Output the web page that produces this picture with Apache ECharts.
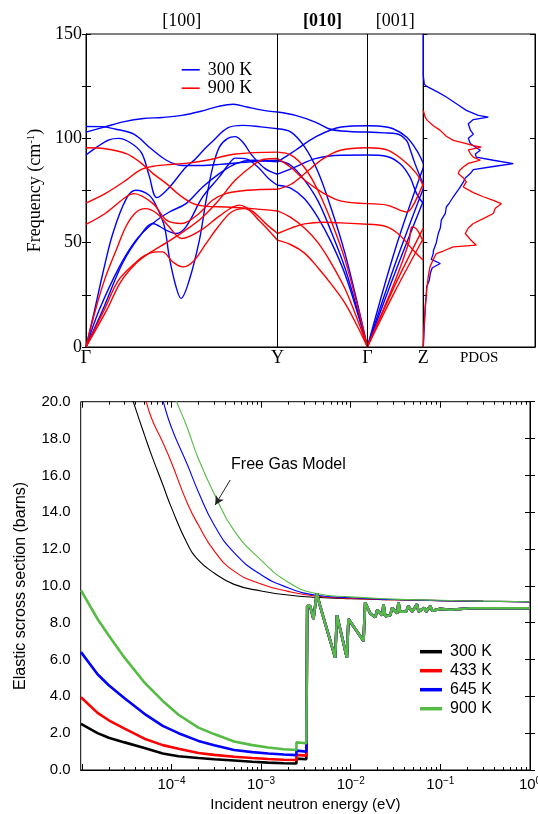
<!DOCTYPE html>
<html><head><meta charset="utf-8">
<script src="https://cdn.jsdelivr.net/npm/echarts@6/dist/echarts.min.js"></script>
<style>html,body{margin:0;padding:0;background:#fff}#c{width:538px;height:814px}</style>
</head><body><div id="c"></div><script>
// ================= TOP PANEL: phonon dispersion =================
const kTicks = [0, 1, 1.469, 1.761];
const kLabels = ['Γ', 'Y', 'Γ', 'Z'];
const dirPos = [0.5, 1.2345, 1.615];
const dirLabels = ['[100]', '[010]', '[001]'];
const freqMax = 150;

// each band: [segment Γ-Y, segment Y-Γ, segment Γ-Z], points [fraction along segment, frequency cm^-1]
const blue1 = [
  [[0,103],[0.1,105.5],[0.2,108],[0.3,109.5],[0.4,110],[0.5,111],[0.6,113],[0.7,115.5],[0.77,116.3],[0.84,115],[0.92,113.5],[1,112.6]],
  [[0,112.6],[0.2,111],[0.42,107.8],[0.57,104.6],[0.71,103.5],[1,103]],
  [[0,103],[0.3,102.6],[0.52,102.2],[0.7,99],[0.76,95],[0.85,88],[1,78]]
];
const blue2 = [
  [[0,105.7],[0.08,105.6],[0.15,104.5],[0.25,102],[0.34,95],[0.42,89.5],[0.5,87],[0.6,87],[0.7,87.5],[0.8,88.3],[0.9,89],[1,89.5]],
  [[0,89.5],[0.15,87],[0.3,80],[0.45,70],[0.6,55],[0.75,38],[0.9,16],[1,0]],
  [[0,0],[0.5,40],[1,76]]
];
const blue3 = [
  [[0,92],[0.06,96],[0.12,99.3],[0.17,100],[0.23,98],[0.29,93],[0.33,82],[0.37,71.6],[0.43,76],[0.52,86],[0.57,90],[0.62,95],[0.66,98.5],[0.74,105],[0.82,106.2],[0.91,105.5],[1,104.6]],
  [[0,104.6],[0.15,103],[0.3,96],[0.45,84],[0.6,66],[0.75,45],[0.9,19],[1,0]],
  [[0,0],[0.5,47],[1,86]]
];
const blue4 = [
  [[0,0],[0.045,17.7],[0.087,35],[0.14,54.4],[0.21,71],[0.26,75.1],[0.33,72.7],[0.37,67],[0.41,57.6],[0.435,43],[0.47,28.9],[0.496,23.3],[0.539,32],[0.592,51.2],[0.627,70.3],[0.662,86.3],[0.697,95.9],[0.74,100],[0.778,100.8],[0.82,98],[0.865,92],[0.935,85.5],[1,82.8]],
  [[0,82.8],[0.2,86.3],[0.42,90.3],[0.71,91.9],[1,92]],
  [[0,92],[0.35,91.3],[0.58,87.9],[0.76,81.5],[0.88,73.5],[1,68.7]]
];
const blue5 = [
  [[0,0],[0.069,17.7],[0.174,38.4],[0.261,51.2],[0.348,59.2],[0.435,64.7],[0.522,68.7],[0.609,76.7],[0.696,83.1],[0.783,87.9],[0.87,89.5],[1,88.7]],
  [[0,88.7],[0.2,94.3],[0.42,100.6],[0.71,105.4],[1,106]],
  [[0,106],[0.23,105.8],[0.46,104.6],[0.7,100.6],[0.88,94.3],[1,87.9]]
];
const blue6 = [
  [[0,0],[0.087,17.7],[0.19,40],[0.278,52.8],[0.348,59.2],[0.418,56],[0.47,54.4],[0.522,57.6],[0.609,71.9],[0.696,81.5],[0.74,87],[0.78,90.5],[0.84,90],[0.9,86],[0.95,81],[1,77.5]],
  [[0,77.5],[0.15,76],[0.3,71],[0.45,62],[0.6,50],[0.75,35],[0.9,15],[1,0]],
  [[0,0],[0.5,36],[1,70]]
];
const red1 = [
  [[0,95.5],[0.1,95],[0.21,92.7],[0.28,88.7],[0.35,83.1],[0.42,78.3],[0.49,72.7],[0.56,68.7],[0.63,67.4],[0.73,67.1],[0.87,66.3],[1,65.2]],
  [[0,65.2],[0.15,62],[0.3,57],[0.45,50],[0.6,40],[0.75,28],[0.9,12],[1,0]],
  [[0,0],[0.5,30],[1,57]]
];
const red2 = [
  [[0,69],[0.1,73.5],[0.21,80],[0.28,84.7],[0.35,86.6],[0.45,87.6],[0.52,88],[0.63,89.5],[0.78,92.5],[1,93.4]],
  [[0,93.4],[0.15,92],[0.3,86],[0.45,75],[0.6,60],[0.75,42],[0.9,18],[1,0]],
  [[0,0],[0.5,32],[0.74,50],[0.8,57.6],[0.88,56.5],[1,50.4]]
];
const red3 = [
  [[0,58.8],[0.1,64],[0.21,72],[0.25,73.5],[0.35,68.7],[0.42,60.8],[0.5,59.2],[0.59,64],[0.66,70.3],[0.73,73.5],[0.84,75.1],[1,75.6]],
  [[0,75.6],[0.15,78],[0.3,83],[0.5,90],[0.7,94.3],[1,95.5]],
  [[0,95.5],[0.35,94.5],[0.64,89.5],[0.88,83.1],[1,77]]
];
const red4 = [
  [[0,0],[0.05,18],[0.1,33],[0.16,47],[0.21,58],[0.26,64.5],[0.31,66.3],[0.37,64],[0.43,58],[0.5,52],[0.6,56],[0.7,63],[0.8,68],[0.87,65],[0.94,59],[1,54.4]],
  [[0,54.4],[0.15,57],[0.3,59],[0.5,59.8],[0.7,59.5],[1,58.8]],
  [[0,58.8],[0.35,57.6],[0.58,53.6],[0.82,46.4],[1,41.6]]
];
const red5 = [
  [[0,0],[0.095,17.7],[0.17,32],[0.26,40.5],[0.31,44],[0.37,45.6],[0.4,45.6],[0.45,41],[0.505,38.4],[0.56,41],[0.63,50],[0.69,57.6],[0.76,64.7],[0.83,66.3],[0.9,61],[1,51.2]],
  [[0,51.2],[0.15,49],[0.3,45],[0.45,38],[0.6,30],[0.75,21],[0.9,9],[1,0]],
  [[0,0],[0.5,27],[1,52]]
];
const red6 = [
  [[0,0],[0.11,18],[0.18,31],[0.26,40],[0.33,45],[0.42,50],[0.52,56],[0.61,62.3],[0.69,70],[0.78,80],[0.87,87],[0.93,90],[1,90.3]],
  [[0,90.3],[0.15,86],[0.3,80],[0.5,74],[0.7,70],[1,68.7]],
  [[0,68.7],[0.35,68],[0.58,65.6],[0.7,64.7],[0.8,67],[1,78.3]]
];
// PDOS: [density (arb.), frequency]
const pdos300 = [[0,150],[0,130],[0.01,126],[0.03,125],[0.15,122],[0.23,119.8],[0.35,116],[0.43,113.4],[0.55,111],[0.65,110.2],[0.5,109],[0.45,107],[0.47,104],[0.5,102],[0.45,100],[0.47,97.5],[0.53,95.5],[0.57,94.3],[0.52,92.5],[0.53,91],[0.7,89.5],[0.9,87.9],[0.7,86.5],[0.5,85],[0.47,83.1],[0.42,81],[0.4,79],[0.36,76],[0.3,72],[0.26,69],[0.23,67.1],[0.22,64],[0.18,60.8],[0.17,57],[0.15,54.4],[0.13,50],[0.1,46],[0.1,44.8],[0.08,42],[0.17,40],[0.09,38],[0.07,35.3],[0.06,32],[0.034,28.9],[0.03,25],[0.02,20],[0.015,15],[0.01,10],[0.005,5],[0,0]];
const pdos900 = [[0,113.4],[0.02,110],[0.04,108.6],[0.1,106],[0.17,103.8],[0.23,101],[0.3,99],[0.43,97.5],[0.5,96.5],[0.58,95.8],[0.45,94.5],[0.47,92.7],[0.5,91],[0.57,89.5],[0.45,88],[0.4,86.3],[0.36,84.5],[0.35,83.1],[0.4,81],[0.43,79.1],[0.4,76.7],[0.5,74],[0.6,72],[0.7,70.3],[0.78,68.7],[0.72,66.5],[0.7,64],[0.6,61.5],[0.5,59.2],[0.45,57],[0.42,54.4],[0.48,51],[0.53,48.8],[0.3,48],[0.2,46],[0.13,44.8],[0.1,42],[0.067,38.4],[0.05,34],[0.035,28],[0.025,22],[0.015,15],[0.005,8],[0,0]];

// ================= BOTTOM PANEL: elastic cross section =================
const energyLabelExps = [-4, -3, -2, -1, 0];
// free gas model (eV, barns)
const fgE   = [2e-5,3e-5,4e-5,5e-5,6e-5,8e-5,1e-4,1.5e-4,2e-4,3e-4,5e-4,1e-3,2e-3,4e-3,1e-2,3e-2,0.1,0.3,1];
const fg300 = [25,21.5,19.6,18.2,17.1,15.5,14.25,12.3,11.4,10.7,10.08,9.72,9.5,9.38,9.3,9.25,9.2,9.17,9.14];
const fg433 = [30,25.5,22.8,20.4,19.1,17.8,16.7,14.5,13.3,11.9,10.8,10.1,9.7,9.45,9.32,9.25,9.2,9.16,9.12];
const fg645 = [35,29.5,26,23.8,22.2,20.1,18.6,16.6,15.1,13.3,11.8,10.6,9.9,9.5,9.35,9.26,9.2,9.16,9.12];
const fg900 = [40,34,30,27.5,25.5,22.8,20.8,18.6,16.9,15.0,13.0,11.4,10.2,9.6,9.4,9.28,9.22,9.17,9.14];
// bound (crystal) low-energy part
const lowE   = [9.8e-6,1.5e-5,2e-5,3e-5,5e-5,8e-5,1.2e-4,2e-4,3e-4,5e-4,8e-4,1.2e-3,1.8e-3,2.48e-3];
const low300 = [2.5,2.0,1.75,1.5,1.2,0.9,0.75,0.65,0.58,0.52,0.45,0.4,0.37,0.35];
const low433 = [3.95,3.1,2.7,2.25,1.7,1.35,1.15,0.92,0.82,0.72,0.65,0.6,0.56,0.54];
const low645 = [6.4,5.2,4.6,3.9,3.05,2.4,2.0,1.58,1.35,1.09,0.97,0.9,0.84,0.81];
const low900 = [9.75,8.2,7.3,6.1,4.75,3.75,3.0,2.3,1.95,1.55,1.35,1.22,1.13,1.09];
const stepE   = [2.48e-3, 3.2e-3];
const step300 = [0.62, 0.58];
const step433 = [0.82, 0.78];
const step645 = [1.05, 1.0];
const step900 = [1.5, 1.45];
// Bragg-edge region (common to all temperatures)
const highE = [3.27e-3,3.53e-3,3.84e-3,4.19e-3,4.56e-3,6.71e-3,7.02e-3,9.06e-3,9.44e-3,1.39e-2,1.45e-2,1.65e-2,1.88e-2,1.98e-2,2.25e-2,2.32e-2,2.43e-2,2.76e-2,2.90e-2,3.30e-2,3.41e-2,3.56e-2,4.16e-2,4.38e-2,4.86e-2,5.48e-2,5.71e-2,6.61e-2,6.96e-2,7.71e-2,8.12e-2,9.98e-2,0.129,0.216,0.467,1.0];
const highV = [8.9,8.9,8.2,9.6,8.9,6.1,8.4,6.1,8.2,7.0,9.1,8.5,8.3,8.7,8.4,9.0,8.35,8.4,8.8,8.5,9.1,8.6,8.6,8.9,8.6,9.0,8.6,8.8,8.6,8.9,8.65,8.75,8.7,8.78,8.78,8.78];
const tempLabels = ['300 K', '433 K', '645 K', '900 K'];
const tempColors = ['#000000', '#ff0000', '#0000ff', '#55bb44'];

// ================= build =================
const SERIF = 'Liberation Serif';
const SANS = 'Liberation Sans';
const BLUE = '#0000ff', RED = '#ff0000';
const xLogMin = -5.012;

function bandSeries(band, name, color) {
  return band.map((seg, s) => ({
    type: 'line', name, xAxisIndex: 0, yAxisIndex: 0,
    data: seg.map(([t, f]) => [kTicks[s] + t * (kTicks[s + 1] - kTicks[s]), f]),
    smooth: 0.35, symbol: 'none', showSymbol: false, silent: true,
    lineStyle: { color, width: 1.4 }, itemStyle: { color }
  }));
}
const series = [];
[blue1, blue2, blue3, blue4, blue5, blue6].forEach(b => series.push(...bandSeries(b, '300 K', BLUE)));
[red1, red2, red3, red4, red5, red6].forEach(b => series.push(...bandSeries(b, '900 K', RED)));
series[0].markLine = {
  silent: true, symbol: ['none', 'none'], animation: false,
  label: { show: false }, lineStyle: { color: '#000', width: 1, type: 'solid' },
  data: [{ xAxis: kTicks[1] }, { xAxis: kTicks[2] }]
};
[[pdos300, BLUE], [pdos900, RED]].forEach(([d, c]) => series.push({
  type: 'line', xAxisIndex: 2, yAxisIndex: 2, data: d, symbol: 'none', silent: true,
  lineStyle: { color: c, width: 1.3 }, itemStyle: { color: c }
}));

const toLog = (E, V) => E.map((e, i) => [Math.log10(e), V[i]]);
[fg300, fg433, fg645, fg900].forEach((v, i) => series.push({
  type: 'line', name: 'fg' + i, xAxisIndex: 3, yAxisIndex: 4, data: toLog(fgE, v),
  smooth: 0.5, symbol: 'none', silent: true,
  lineStyle: { color: tempColors[i], width: 1.1 }, itemStyle: { color: tempColors[i] }
}));
const fgGreen = series[series.length - 1];
fgGreen.markPoint = {
  silent: true, symbol: 'circle', symbolSize: 0, animation: false,
  label: { show: true, position: 'right', distance: 4, formatter: 'Free Gas Model', color: '#000', fontFamily: SANS, fontSize: 16 },
  data: [{ coord: [-3.379, 16.56] }]
};
fgGreen.markLine = {
  silent: true, symbol: ['none', 'arrow'], symbolSize: [7, 9], animation: false,
  label: { show: false }, lineStyle: { color: '#222', width: 1, type: 'solid' },
  data: [[{ coord: [-3.344, 15.75] }, { coord: [-3.512, 14.39] }]]
};
const lows = [low300, low433, low645, low900];
const steps = [step300, step433, step645, step900];
tempLabels.forEach((lab, i) => {
  const data = toLog(lowE, lows[i]).concat(toLog(stepE, steps[i]), toLog(highE, highV));
  series.push({
    type: 'line', name: lab + '#b', xAxisIndex: 3, yAxisIndex: 4, data,
    symbol: 'none', silent: true,
    lineStyle: { color: tempColors[i], width: 2.6 }, itemStyle: { color: tempColors[i] }
  });
});

const majorExp = [-5, -4, -3, -2, -1, 0];
const minorExp = [];
for (let d = -5; d < 0; d++) for (let k = 2; k <= 9; k++) minorExp.push(d + Math.log10(k));
const supRich = { sup: { fontSize: 10, fontFamily: SANS, color: '#000', verticalAlign: 'top', padding: [0, 0, 7, 0] } };

const option = {
  animation: false,
  backgroundColor: '#fff',
  grid: [
    { left: 86, top: 34, width: 337.3, height: 313, show: true, borderColor: '#000', borderWidth: 1, outerBoundsMode: 'none' },
    { left: 423.3, top: 34, width: 111.7, height: 313, show: true, borderColor: '#000', borderWidth: 1, outerBoundsMode: 'none' },
    { left: 80.7, top: 401.7, width: 449.3, height: 368.3, show: true, borderColor: '#000', borderWidth: 1, outerBoundsMode: 'none' }
  ],
  legend: [
    { data: ['300 K', '900 K'], orient: 'vertical', left: 181.7, top: 60.8, padding: 0, icon: 'rect',
      itemWidth: 18, itemHeight: 1.6, itemGap: 0.4, selectedMode: false,
      textStyle: { fontFamily: SERIF, fontSize: 18, lineHeight: 17, color: '#000', padding: [0, 0, 0, 3] } },
    { data: tempLabels.map(l => l + '#b'), orient: 'vertical', left: 420, top: 643.7, padding: 0, icon: 'rect',
      itemWidth: 22, itemHeight: 3.5, itemGap: 3, selectedMode: false,
      formatter: n => n.replace('#b', ''),
      textStyle: { fontFamily: SANS, fontSize: 16, lineHeight: 16, color: '#000', padding: [0, 0, 0, 3] } }
  ],
  xAxis: [
    { gridIndex: 0, type: 'value', min: 0, max: kTicks[3], position: 'bottom',
      axisLine: { show: true, lineStyle: { color: '#000' } }, axisTick: { show: false }, splitLine: { show: false },
      axisLabel: { customValues: kTicks, margin: 2, color: '#000', fontFamily: SERIF, fontSize: 18,
        formatter: v => { let b = 0; kTicks.forEach((k, i) => { if (Math.abs(k - v) < Math.abs(kTicks[b] - v)) b = i; }); return kLabels[b]; } } },
    { gridIndex: 0, type: 'value', min: 0, max: kTicks[3], position: 'top',
      axisLine: { show: false }, axisTick: { show: false }, splitLine: { show: false },
      axisLabel: { customValues: dirPos, margin: 4, color: '#000', fontFamily: SERIF, fontSize: 18,
        rich: { b: { fontFamily: SERIF, fontSize: 18, fontWeight: 'bold', color: '#000' } },
        formatter: v => { let b = 0; dirPos.forEach((k, i) => { if (Math.abs(k - v) < Math.abs(dirPos[b] - v)) b = i; }); return b === 1 ? '{b|' + dirLabels[b] + '}' : dirLabels[b]; } } },
    { gridIndex: 1, type: 'value', min: 0, max: 1.117,
      axisLine: { show: true, lineStyle: { color: '#000' } }, axisTick: { show: false }, axisLabel: { show: false }, splitLine: { show: false },
      name: 'PDOS', nameLocation: 'middle', nameGap: 4, nameTextStyle: { fontFamily: SERIF, fontSize: 15, color: '#000' } },
    { gridIndex: 2, type: 'value', min: xLogMin, max: 0, position: 'bottom',
      axisLine: { show: true, lineStyle: { color: '#000' } },
      axisTick: { show: true, inside: true, length: 6, customValues: majorExp, lineStyle: { color: '#000' } },
      splitLine: { show: false },
      axisLabel: { customValues: energyLabelExps, margin: 6, color: '#000', fontFamily: SANS, fontSize: 15, rich: supRich,
        formatter: v => { const e = Math.round(v); return '10{sup|' + (e === 0 ? '0' : '−' + Math.abs(e)) + '}'; } },
      name: 'Incident neutron energy (eV)', nameLocation: 'middle', nameGap: 27,
      nameTextStyle: { fontFamily: SANS, fontSize: 15, color: '#000' } },
    { gridIndex: 2, type: 'value', min: xLogMin, max: 0, position: 'bottom',
      axisLine: { show: false }, axisLabel: { show: false }, splitLine: { show: false },
      axisTick: { show: true, inside: true, length: 3, customValues: minorExp, lineStyle: { color: '#000' } } },
    { gridIndex: 2, type: 'value', min: xLogMin, max: 0, position: 'top',
      axisLine: { show: false }, axisLabel: { show: false }, splitLine: { show: false },
      axisTick: { show: true, inside: true, length: 6, customValues: majorExp, lineStyle: { color: '#000' } } },
    { gridIndex: 2, type: 'value', min: xLogMin, max: 0, position: 'top',
      axisLine: { show: false }, axisLabel: { show: false }, splitLine: { show: false },
      axisTick: { show: true, inside: true, length: 3, customValues: minorExp, lineStyle: { color: '#000' } } }
  ],
  yAxis: [
    { gridIndex: 0, type: 'value', min: 0, max: freqMax, interval: 25, position: 'left',
      axisLine: { show: true, lineStyle: { color: '#000' } },
      axisTick: { show: true, inside: true, length: 5, lineStyle: { color: '#000' } }, splitLine: { show: false },
      axisLabel: { margin: 4, color: '#000', fontFamily: SERIF, fontSize: 18, formatter: v => (v % 50 === 0 ? String(v) : '') },
      name: 'Frequency (cm{sup|-1})', nameLocation: 'middle', nameGap: 33, nameRotate: 90,
      nameTextStyle: { fontFamily: SERIF, fontSize: 18, color: '#000',
        rich: { sup: { fontFamily: SERIF, fontSize: 11, color: '#000', verticalAlign: 'top', padding: [0, 0, 8, 0] } } } },
    { gridIndex: 0, type: 'value', min: 0, max: freqMax, interval: 25, position: 'right',
      axisLine: { show: true, lineStyle: { color: '#000' } },
      axisTick: { show: true, inside: true, length: 4, lineStyle: { color: '#000' } }, axisLabel: { show: false }, splitLine: { show: false } },
    { gridIndex: 1, type: 'value', min: 0, max: freqMax, interval: 25, position: 'left',
      axisLine: { show: true, lineStyle: { color: '#000' } },
      axisTick: { show: true, inside: true, length: 4, lineStyle: { color: '#000' } }, axisLabel: { show: false }, splitLine: { show: false } },
    { gridIndex: 1, type: 'value', min: 0, max: freqMax, interval: 25, position: 'right',
      axisLine: { show: true, lineStyle: { color: '#000' } },
      axisTick: { show: true, inside: true, length: 5, lineStyle: { color: '#000' } }, axisLabel: { show: false }, splitLine: { show: false } },
    { gridIndex: 2, type: 'value', min: 0, max: 20, interval: 2, position: 'left',
      axisLine: { show: true, lineStyle: { color: '#000' } },
      axisTick: { show: true, inside: true, length: 5, lineStyle: { color: '#000' } }, splitLine: { show: false },
      axisLabel: { margin: 10, color: '#000', fontFamily: SANS, fontSize: 15, formatter: v => v.toFixed(1) },
      name: 'Elastic scross section (barns)', nameLocation: 'middle', nameGap: 52, nameRotate: 90,
      nameTextStyle: { fontFamily: SANS, fontSize: 16, color: '#000' } },
    { gridIndex: 2, type: 'value', min: 0, max: 20, interval: 2, position: 'right',
      axisLine: { show: true, lineStyle: { color: '#000' } },
      axisTick: { show: true, inside: true, length: 5, lineStyle: { color: '#000' } }, axisLabel: { show: false }, splitLine: { show: false } }
  ],
  series
};
const chart = echarts.init(document.getElementById('c'), null, { renderer: 'canvas', width: 538, height: 814 });
chart.setOption(option);
</script></body></html>
